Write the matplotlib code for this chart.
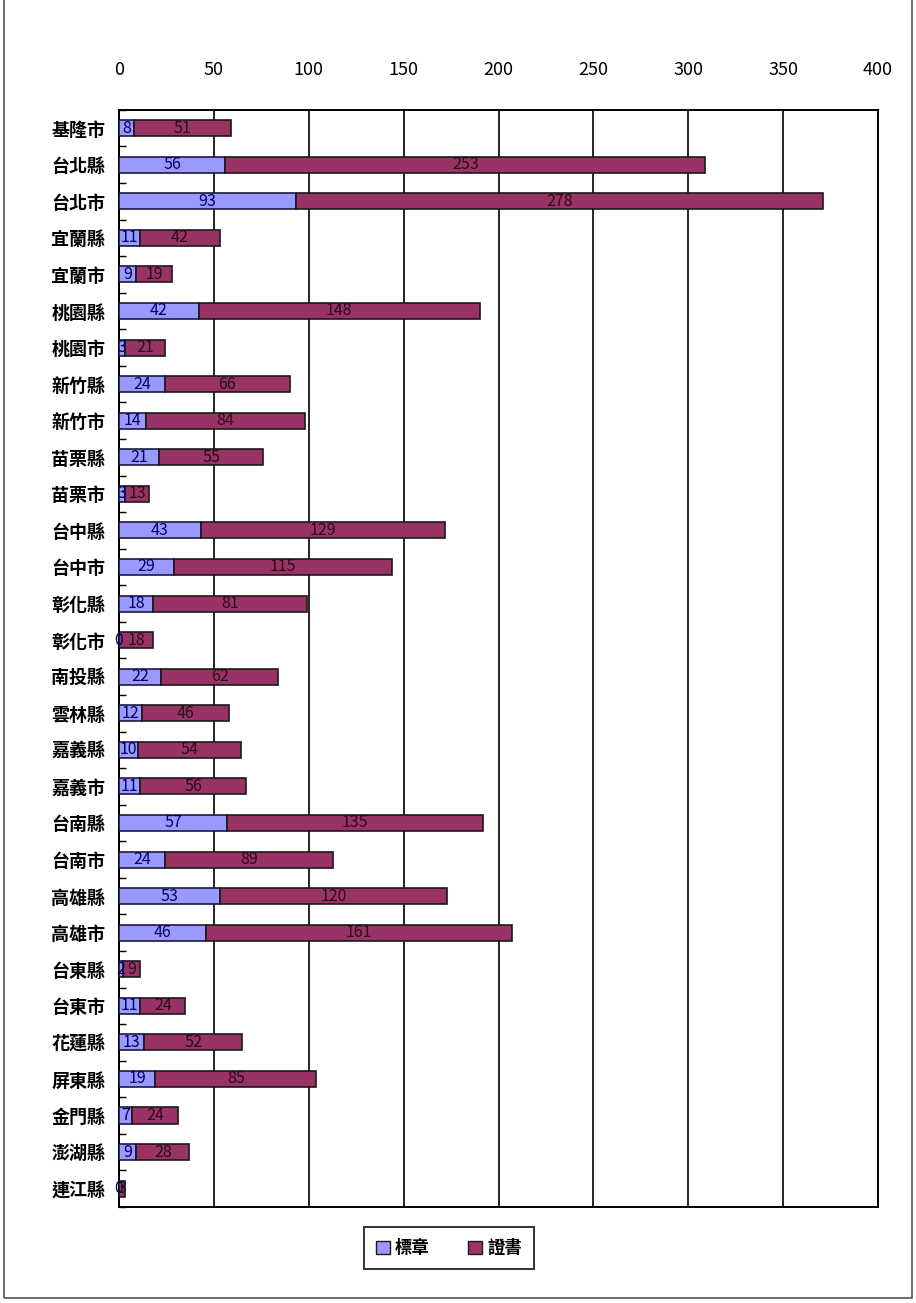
import matplotlib.pyplot as plt
import matplotlib.patches as mpatches
import numpy as np

plt.rcParams['font.family'] = ['Noto Sans CJK TC', 'DejaVu Sans']

# ── Daten ─────────────────────────────────────────────────────────────────────
REGIONS = ['基隆市', '台北縣', '台北市', '宜蘭縣', '宜蘭市', '桃園縣', '桃園市',
           '新竹縣', '新竹市', '苗栗縣', '苗栗市', '台中縣', '台中市', '彰化縣',
           '彰化市', '南投縣', '雲林縣', '嘉義縣', '嘉義市', '台南縣', '台南市',
           '高雄縣', '高雄市', '台東縣', '台東市', '花蓮縣', '屏東縣', '金門縣',
           '澎湖縣', '連江縣']
MARK = [8, 56, 93, 11, 9, 42, 3, 24, 14, 21, 3, 43, 29, 18, 0, 22, 12, 10, 11,
        57, 24, 53, 46, 2, 11, 13, 19, 7, 9, 0]
CERT = [51, 253, 278, 42, 19, 148, 21, 66, 84, 55, 13, 129, 115, 81, 18, 62, 46,
        54, 56, 135, 89, 120, 161, 9, 24, 52, 85, 24, 28, 3]
SERIES = ['標章', '證書']
XTICKS = [0, 50, 100, 150, 200, 250, 300, 350, 400]

BLUE = '#9999FF'
MAROON = '#993366'

fig = plt.figure(figsize=(9.16, 13.03), dpi=100, facecolor='white')
ax = fig.add_axes([0.130, 0.0737, 0.8286, 0.842])

y = np.arange(len(REGIONS))
h = 0.44
b1 = ax.barh(y, MARK, height=h, color=BLUE, edgecolor='#1a1a40', linewidth=1.2, zorder=3)
b2 = ax.barh(y, CERT, left=MARK, height=h, color=MAROON, edgecolor='#1a1a1a', linewidth=1.2, zorder=3)

ax.bar_label(b1, labels=[str(v) for v in MARK], label_type='center',
             fontsize=11.5, color='#000060', zorder=4)
ax.bar_label(b2, labels=[str(v) for v in CERT], label_type='center',
             fontsize=11.5, color='#2a0a1a', zorder=4)

ax.set_xlim(0, 400)
ax.set_ylim(len(REGIONS) - 0.5, -0.5)
ax.set_xticks(XTICKS)
ax.xaxis.tick_top()
ax.tick_params(axis='x', length=0, pad=22, labelsize=13)
ax.grid(axis='x', color='black', linewidth=1.2, zorder=1)

ax.set_yticks(y)
ax.set_yticklabels(REGIONS, fontsize=13, fontweight='bold')
ax.tick_params(axis='y', length=0, pad=10)
ax.set_yticks(np.arange(len(REGIONS) + 1) - 0.5, minor=True)
ax.tick_params(axis='y', which='minor', direction='in', length=5, width=1)

for s in ax.spines.values():
    s.set_color('black')
    s.set_linewidth(1.4)

handles = [mpatches.Patch(facecolor=BLUE, edgecolor='#1a1a1a', label=SERIES[0]),
           mpatches.Patch(facecolor=MAROON, edgecolor='#1a1a1a', label=SERIES[1])]
leg = fig.legend(handles=handles, loc='center', bbox_to_anchor=(0.49, 0.042),
                 ncol=2, fontsize=12.5, frameon=True, fancybox=False,
                 edgecolor='black', handlelength=0.8, handleheight=0.8,
                 columnspacing=2.2, handletextpad=0.3, borderpad=0.7)
leg.get_frame().set_linewidth(1.4)
for t in leg.get_texts():
    t.set_fontweight('bold')

# äußerer Rahmen
fig.patches.append(mpatches.Rectangle((0.004, 0.004), 0.992, 1.0, transform=fig.transFigure,
                                      fill=False, edgecolor='#555555', linewidth=1.2))

plt.savefig('out.png', dpi=100, facecolor='white')
